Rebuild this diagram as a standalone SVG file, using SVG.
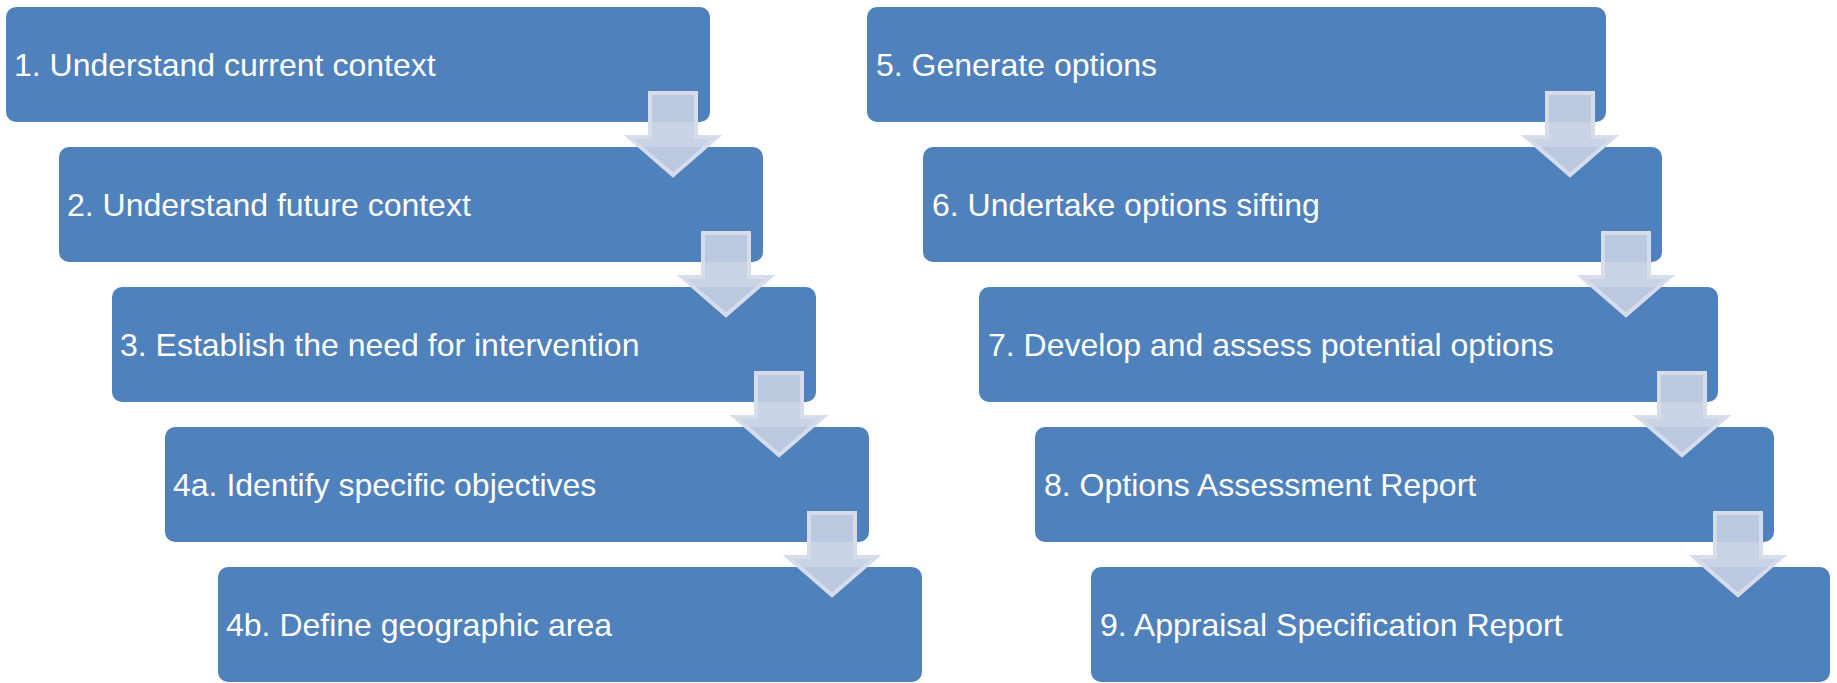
<svg xmlns="http://www.w3.org/2000/svg" width="1837" height="683" viewBox="0 0 1837 683">
<style>
.box{fill:#4f81bd}
.lbl{font-family:"Liberation Sans",Arial,sans-serif;font-size:32px;fill:#ffffff}
.arr{fill:#c3cfe3;fill-opacity:0.92;stroke:#d6dcea;stroke-width:4;stroke-linejoin:miter}
</style>
<rect width="1837" height="683" fill="#ffffff"/>
<g id="n1"><rect class="box" x="6" y="7" width="704" height="115" rx="10"/><text class="lbl" x="14" y="76">1. Understand current context</text></g>
<g id="n2"><rect class="box" x="59" y="147" width="704" height="115" rx="10"/><text class="lbl" x="67" y="216">2. Understand future context</text></g>
<g id="n3"><rect class="box" x="112" y="287" width="704" height="115" rx="10"/><text class="lbl" x="120" y="356">3. Establish the need for intervention</text></g>
<g id="n4a"><rect class="box" x="165" y="427" width="704" height="115" rx="10"/><text class="lbl" x="173" y="496">4a. Identify specific objectives</text></g>
<g id="n4b"><rect class="box" x="218" y="567" width="704" height="115" rx="10"/><text class="lbl" x="226" y="636">4b. Define geographic area</text></g>
<g id="n5"><rect class="box" x="867" y="7" width="739" height="115" rx="10"/><text class="lbl" x="876" y="76">5. Generate options</text></g>
<g id="n6"><rect class="box" x="923" y="147" width="739" height="115" rx="10"/><text class="lbl" x="932" y="216">6. Undertake options sifting</text></g>
<g id="n7"><rect class="box" x="979" y="287" width="739" height="115" rx="10"/><text class="lbl" x="988" y="356">7. Develop and assess potential options</text></g>
<g id="n8"><rect class="box" x="1035" y="427" width="739" height="115" rx="10"/><text class="lbl" x="1044" y="496">8. Options Assessment Report</text></g>
<g id="n9"><rect class="box" x="1091" y="567" width="739" height="115" rx="10"/><text class="lbl" x="1100" y="636">9. Appraisal Specification Report</text></g>
<g id="connectors">
<path class="arr" d="M650,93 h46 v44 h21 l-44,38 l-44,-38 h21 z"/>
<path class="arr" d="M703,233 h46 v44 h21 l-44,38 l-44,-38 h21 z"/>
<path class="arr" d="M756,373 h46 v44 h21 l-44,38 l-44,-38 h21 z"/>
<path class="arr" d="M809,513 h46 v44 h21 l-44,38 l-44,-38 h21 z"/>
<path class="arr" d="M1547,93 h46 v44 h21 l-44,38 l-44,-38 h21 z"/>
<path class="arr" d="M1603,233 h46 v44 h21 l-44,38 l-44,-38 h21 z"/>
<path class="arr" d="M1659,373 h46 v44 h21 l-44,38 l-44,-38 h21 z"/>
<path class="arr" d="M1715,513 h46 v44 h21 l-44,38 l-44,-38 h21 z"/>
</g>
</svg>
